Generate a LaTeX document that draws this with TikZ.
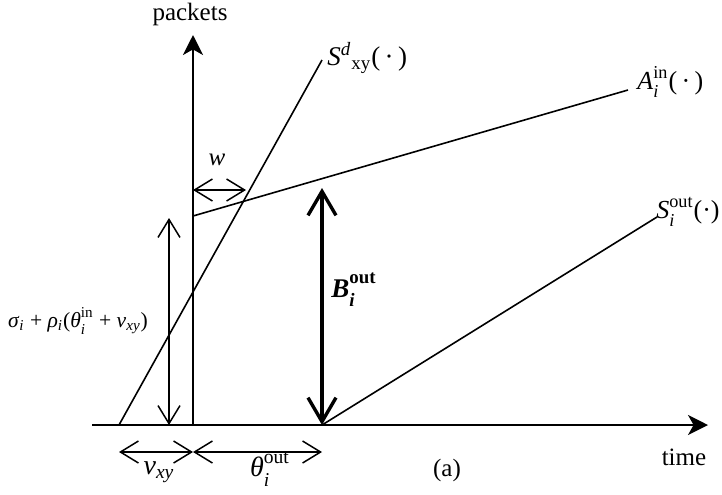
\documentclass[tikz,border=0pt]{standalone}
\usepackage{amsmath}
\usepackage{fontspec}
\setmainfont{Liberation Serif}
\usetikzlibrary{arrows.meta}
\newcommand{\subsup}[2]{$_{\text{\raisebox{-0.25ex}{#1}}}^{\text{\raisebox{0.35ex}{#2}}}$}
\begin{document}
\begin{tikzpicture}[x=0.5pt,y=-0.5pt,
  line/.style={line width=0.8pt, black},
  axis/.style={line width=0.9pt, -{Stealth[length=10pt,width=10pt,inset=2.8pt]}},
  dim/.style={line width=0.75pt, {Straight Barb[length=9pt,width=11pt]}-{Straight Barb[length=9pt,width=11pt]}},
  bigdim/.style={line width=1.7pt, {Straight Barb[length=12pt,width=14pt]}-{Straight Barb[length=12pt,width=14pt]}},
  lbl/.style={inner sep=0pt, font=\fontsize{12.5}{14}\selectfont},
  small/.style={inner sep=0pt, font=\fontsize{10.8}{12}\selectfont}]
\useasboundingbox (0,0) rectangle (722,494);
% axes
\coordinate (O) at (193,425);
\coordinate (ytop) at (193,35);
\coordinate (x0) at (92,425);
\coordinate (xend) at (708,425);
\draw[axis] (O) -- (ytop);
\draw[axis] (x0) -- (xend);
\node[lbl] (packets) at (190,14) {packets};
\node[lbl] (time) at (684,457) {time};
\node[lbl] (cap) at (447,470) {(a)};
% curves
\coordinate (sd0) at (119,425);
\coordinate (sd1) at (322,60);
\coordinate (a0) at (193,216);
\coordinate (a1) at (628,90);
\coordinate (so0) at (322,425);
\coordinate (so1) at (657,217);
\draw[line] (sd0) -- (sd1);
\draw[line] (a0) -- (a1);
\draw[line] (so0) -- (so1);
\node[lbl,anchor=west,font=\fontsize{13.5}{15}\selectfont] (Sd) at (327,58) {\textit{S}$^{\textit{d}}{}_{\text{xy}}$(\,·\,)};
\node[lbl,anchor=west,font=\fontsize{13}{15}\selectfont] (Ain) at (637,82) {\textit{A}\subsup{\textit{i}}{in}(\,·\,)};
\node[lbl,anchor=east,font=\fontsize{13}{15}\selectfont] (Sout) at (720,212) {\textit{S}\subsup{\textit{i}}{out}(·)};
% dimension arrows
\coordinate (w0) at (193,190);
\coordinate (w1) at (246,190);
\draw[dim] (w0) -- (w1);
\node[lbl] (w) at (217,160) {\textit{w}};
\coordinate (l0) at (169,218);
\coordinate (l1) at (169,425);
\draw[dim] (l0) -- (l1);
\node[small] (sig) at (78,321) {\textit{σ}$_{\textit{i}}$ + \textit{ρ}$_{\textit{i}}$(\textit{θ}\subsup{\textit{i}}{in} + \textit{v}$_{\textit{xy}}$)};
\coordinate (b0) at (322,188);
\draw[bigdim] (b0) -- (so0);
\node[inner sep=0pt, font=\fontsize{13.5}{15}\selectfont] (B) at (354,290) {\textbf{\textit{B}}\subsup{\textbf{\textit{i}}}{\textbf{out}}};
\coordinate (v0) at (119,452);
\coordinate (v1) at (193,452);
\coordinate (t1) at (322,452);
\draw[dim] (v0) -- (v1);
\draw[dim] (v1) -- (t1);
\node[lbl, font=\fontsize{14}{16}\selectfont] (vxy) at (159,472) {\textit{v}$_{\textit{xy}}$};
\node[lbl, font=\fontsize{14}{16}\selectfont] (th) at (270,469) {\textit{θ}\subsup{\textit{i}}{out}};
\end{tikzpicture}
\end{document}
